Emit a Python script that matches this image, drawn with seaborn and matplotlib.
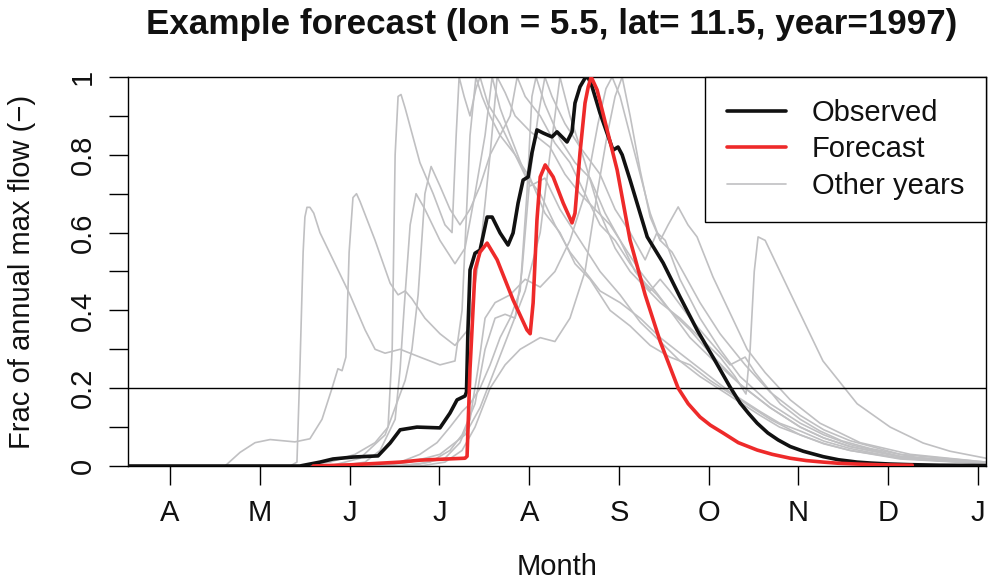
import numpy as np
import pandas as pd
import matplotlib
matplotlib.use("Agg")
import matplotlib.pyplot as plt
import seaborn as sns
from matplotlib.lines import Line2D
from matplotlib.ticker import FixedLocator, MultipleLocator, NullLocator

# ---------------- data ----------------
month_labels = ["A", "M", "J", "J", "A", "S", "O", "N", "D", "J"]
month_ticks = [14.2, 44.7, 75.2, 105.6, 136.1, 166.5, 197.0, 227.4, 257.9, 288.3]
y_ticks = [0, 0.2, 0.4, 0.6, 0.8, 1.0]
y_ticklabels = ["0", "0.2", "0.4", "0.6", "0.8", "1"]
threshold = 0.2

obs_day = [0, 58.3, 65.1, 69.5, 76.3, 84.8, 88.9, 92.3, 98.0, 105.8,
           109.2, 111.6, 114.3, 114.8, 115.3, 116.0, 117.7, 119.4, 121.8, 123.5,
           126.2, 128.9, 130.6, 132.3, 134.0, 135.7, 137.0, 138.7, 140.8, 143.8,
           145.5, 148.9, 150.6, 151.6, 153.3, 155.0, 156.0, 157.4, 160.1, 164.5,
           166.2, 167.6, 170.3, 176.1, 181.5, 187.2, 193.0, 198.4, 204.2, 207.6,
           210.5, 213.4, 217.0, 220.5, 224.6, 229.0, 235.8, 241.0, 247.3, 252.0,
           258.5, 265.0, 275.0, 291.0]
obs_val = [0, 0, 0.01, 0.018, 0.023, 0.026, 0.059, 0.093, 0.10, 0.098,
           0.136, 0.17, 0.18, 0.19, 0.35, 0.504, 0.547, 0.555, 0.64, 0.64,
           0.599, 0.568, 0.599, 0.676, 0.735, 0.743, 0.805, 0.864, 0.856, 0.846,
           0.859, 0.833, 0.859, 0.933, 0.975, 0.997, 1.0, 0.975, 0.907, 0.812,
           0.82, 0.80, 0.735, 0.589, 0.522, 0.435, 0.35, 0.28, 0.203, 0.162,
           0.135, 0.11, 0.085, 0.067, 0.05, 0.038, 0.024, 0.016, 0.01, 0.0075,
           0.005, 0.0035, 0.002, 0.001]

fc_day = [62.8, 75.3, 92.3, 99.0, 114.3, 115.0, 116.0, 117.7, 119.4, 121.8,
          125.2, 130.6, 135.3, 136.4, 137.4, 138.7, 139.8, 141.5, 144.2, 147.6,
          150.6, 151.6, 153.3, 155.0, 156.1, 157.1, 159.1, 162.5, 165.9, 170.3,
          175.4, 180.5, 186.6, 190.0, 194.0, 197.5, 201.8, 207.0, 213.4, 218.5,
          224.6, 230.0, 235.8, 241.0, 247.3, 255.0, 266.0]
fc_val = [0, 0.003, 0.01, 0.015, 0.02, 0.025, 0.25, 0.504, 0.55, 0.573,
          0.53, 0.427, 0.35, 0.34, 0.419, 0.632, 0.743, 0.774, 0.743, 0.676,
          0.625, 0.65, 0.805, 0.933, 0.975, 1.0, 0.967, 0.864, 0.761, 0.58,
          0.44, 0.32, 0.2, 0.16, 0.126, 0.105, 0.085, 0.06, 0.041, 0.03,
          0.02, 0.014, 0.01, 0.007, 0.005, 0.003, 0.002]

oy1_day = [0, 55.0, 57.3, 58.3, 59.4, 60.0, 60.7, 61.7, 63.0, 65.1, 70.2, 75.3,
           80.4, 83.8, 87.2, 92.3, 99.0, 105.8, 110.9, 113.3, 116.0, 118.0,
           120.1, 122.8, 126.2, 131.3, 136.4, 141.4, 146.5, 153.3, 160.1, 166.9,
           173.7, 180.5, 187.2, 194.0, 204.2, 214.4, 221.0, 228.0, 236.0, 244.9,
           261.9, 291.0]
oy1_val = [0, 0, 0.01, 0.25, 0.55, 0.64, 0.665, 0.665, 0.65, 0.6, 0.52, 0.44,
           0.35, 0.3, 0.29, 0.3, 0.28, 0.26, 0.27, 0.4, 0.85, 1.0,
           0.95, 0.9, 0.85, 0.8, 0.72, 0.74, 0.66, 0.58, 0.5, 0.44,
           0.37, 0.32, 0.27, 0.23, 0.18, 0.13, 0.1, 0.08, 0.057, 0.04,
           0.02, 0.006]

oy2_day = [0, 32.9, 38.0, 43.1, 48.2, 56.6, 61.7, 65.8, 69.2, 71.2,
           72.6, 73.9, 75.0, 76.3, 77.5, 78.7, 83.8, 88.9, 91.6, 94.0, 96.3,
           100.7, 105.8, 110.9, 115.3, 119.4, 122.8, 125.2, 127.9, 131.3, 136.4,
           143.1, 148.2, 153.3, 158.4, 163.5, 168.6, 173.7, 178.8, 183.8, 190.6,
           197.4, 207.6, 217.8, 228.0, 236.0, 244.9, 261.9, 291.0]
oy2_val = [0, 0, 0.035, 0.06, 0.068, 0.062, 0.07, 0.12, 0.2, 0.25,
           0.245, 0.28, 0.55, 0.69, 0.70, 0.68, 0.58, 0.47, 0.44, 0.45, 0.43,
           0.38, 0.34, 0.31, 0.35, 0.55, 0.8, 1.0, 0.96, 0.9, 0.86,
           0.82, 0.75, 0.7, 0.66, 0.62, 0.56, 0.5, 0.45, 0.4, 0.33,
           0.28, 0.21, 0.15, 0.1, 0.072, 0.05, 0.024, 0.008]

oy3_day = [0, 58.3, 68.5, 77.0, 83.8, 88.2, 89.6, 90.6, 91.6, 92.6, 94.0,
           99.0, 103.5, 107.5, 109.9, 111.3, 112.3, 114.0, 116.0, 118.0, 119.4,
           122.1, 126.2, 131.3, 136.4, 141.4, 146.5, 151.6, 156.7, 163.5, 170.3,
           177.1, 183.8, 190.6, 197.4, 207.6, 217.8, 228.0, 236.0, 244.9, 261.9, 291.0]
oy3_val = [0, 0, 0.01, 0.03, 0.06, 0.1, 0.3, 0.8, 0.95, 0.955, 0.92,
           0.78, 0.70, 0.62, 0.6, 0.85, 1.0, 0.95, 0.9, 0.97, 1.0,
           0.93, 0.88, 0.8, 0.74, 0.65, 0.6, 0.52, 0.48, 0.4, 0.36,
           0.31, 0.28, 0.26, 0.22, 0.17, 0.12, 0.08, 0.058, 0.04, 0.018, 0.006]

oy4_day = [0, 68.5, 78.7, 87.2, 90.6, 94.0, 96.3, 98.4, 100.7, 102.8,
           105.8, 109.2, 112.6, 116.0, 119.4, 122.8, 126.2, 129.6, 132.0, 134.7,
           139.8, 144.8, 149.9, 155.0, 160.1, 165.2, 170.3, 175.4, 179.4, 183.8,
           190.6, 197.4, 207.6, 217.8, 228.0, 236.0, 244.9, 261.9, 291.0]
oy4_val = [0, 0, 0.02, 0.08, 0.15, 0.22, 0.3, 0.44, 0.7, 0.77,
           0.72, 0.66, 0.62, 0.66, 0.72, 0.8, 0.85, 0.9, 1.0, 0.95,
           0.9, 0.83, 0.78, 0.7, 0.62, 0.58, 0.52, 0.47, 0.44, 0.4,
           0.35, 0.29, 0.21, 0.15, 0.1, 0.072, 0.05, 0.024, 0.008]

oy5_day = [0, 71.9, 80.4, 85.5, 90.6, 92.3, 93.6, 95.7, 97.7, 100.7,
           105.8, 110.9, 114.3, 117.7, 121.1, 123.5, 126.2, 129.6, 134.7, 139.8,
           144.8, 149.9, 155.0, 160.1, 166.9, 173.7, 180.5, 187.2, 194.0, 204.2,
           214.4, 221.0, 228.0, 236.0, 244.9, 261.9, 291.0]
oy5_val = [0, 0, 0.01, 0.04, 0.12, 0.25, 0.4, 0.62, 0.70, 0.66,
           0.58, 0.52, 0.56, 0.7, 0.85, 1.0, 0.92, 0.85, 0.75, 0.7,
           0.62, 0.55, 0.5, 0.45, 0.42, 0.38, 0.33, 0.29, 0.25, 0.19,
           0.14, 0.11, 0.09, 0.064, 0.045, 0.02, 0.007]

oy6_day = [0, 82.1, 92.3, 99.0, 104.8, 109.2, 113.3, 116.0, 119.4, 122.8,
           126.2, 129.6, 133.0, 135.3, 137.0, 138.4, 141.4, 146.5, 151.6, 156.7,
           161.8, 166.9, 172.0, 177.1, 180.5, 183.8, 190.6, 197.4, 204.2, 209.3,
           212.7, 221.2, 228.0, 234.7, 242.0, 251.7, 268.6, 291.0]
oy6_val = [0, 0, 0.01, 0.03, 0.06, 0.1, 0.14, 0.16, 0.2, 0.26,
           0.33, 0.38, 0.45, 0.7, 0.95, 1.0, 0.93, 0.84, 0.78, 0.74,
           0.65, 0.58, 0.5, 0.45, 0.48, 0.45, 0.38, 0.32, 0.26, 0.28,
           0.24, 0.16, 0.12, 0.09, 0.065, 0.045, 0.02, 0.007]

oy7_day = [0, 92.3, 102.4, 109.2, 113.3, 117.7, 121.1, 124.5, 127.9, 131.3,
           133.6, 136.4, 139.1, 141.4, 143.8, 148.2, 153.3, 160.1, 165.2, 170.3,
           175.4, 179.4, 182.2, 187.2, 194.0, 200.8, 207.6, 217.8, 228.0, 236.0,
           244.9, 261.9, 291.0]
oy7_val = [0, 0, 0.01, 0.04, 0.08, 0.16, 0.3, 0.38, 0.39, 0.38,
           0.5, 0.75, 0.9, 1.0, 0.95, 0.88, 0.82, 0.75, 0.66, 0.6,
           0.53, 0.6, 0.58, 0.48, 0.38, 0.3, 0.23, 0.16, 0.11, 0.08,
           0.055, 0.025, 0.008]

oy8_day = [0, 88.9, 99.0, 107.5, 112.6, 116.0, 118.7, 121.1, 124.5, 129.6,
           134.7, 139.8, 144.8, 149.9, 155.0, 159.4, 162.1, 164.2, 166.9, 170.3,
           173.7, 177.1, 180.5, 184.5, 188.9, 194.0, 200.8, 209.3, 217.8, 228.0,
           236.0, 244.9, 261.9, 291.0]
oy8_val = [0, 0, 0.005, 0.02, 0.06, 0.12, 0.25, 0.38, 0.42, 0.44,
           0.48, 0.46, 0.5, 0.58, 0.7, 0.88, 0.97, 1.0, 0.95, 0.85,
           0.75, 0.65, 0.58, 0.55, 0.49, 0.42, 0.34, 0.26, 0.19, 0.13,
           0.093, 0.065, 0.03, 0.01]

oy9_day = [0, 99.0, 107.5, 113.3, 117.7, 122.8, 127.9, 133.0, 139.8, 144.8,
           149.9, 155.0, 159.1, 162.5, 165.2, 167.6, 170.3, 173.7, 177.1, 180.5,
           183.2, 186.6, 189.9, 193.0, 198.4, 204.2, 210.0, 216.1, 224.6, 234.7,
           248.3, 265.3, 291.0]
oy9_val = [0, 0, 0.01, 0.04, 0.1, 0.2, 0.26, 0.3, 0.33, 0.32,
           0.38, 0.5, 0.7, 0.85, 0.95, 1.0, 0.9, 0.76, 0.64, 0.58,
           0.62, 0.666, 0.62, 0.589, 0.486, 0.393, 0.3, 0.24, 0.17, 0.11,
           0.06, 0.03, 0.01]

oy10_day = [0, 85.5, 95.7, 105.8, 114.3, 119.4, 124.5, 129.6, 134.7, 139.8,
            143.1, 146.5, 149.9, 155.0, 160.1, 165.2, 170.3, 175.4, 180.5, 187.2,
            194.0, 200.8, 205.9, 208.3, 209.6, 211.0, 212.4, 213.7, 216.1, 224.6,
            235.7, 247.3, 258.5, 269.7, 278.8, 291.0]
oy10_val = [0, 0, 0.01, 0.03, 0.08, 0.15, 0.25, 0.35, 0.45, 0.6,
            0.8, 1.0, 0.9, 0.78, 0.65, 0.56, 0.5, 0.46, 0.42, 0.38,
            0.33, 0.28, 0.23, 0.2, 0.185, 0.3, 0.5, 0.589, 0.58, 0.445,
            0.27, 0.16, 0.10, 0.059, 0.038, 0.02]

# ---------------- tables ----------------
other_pairs = [(oy1_day, oy1_val), (oy2_day, oy2_val), (oy3_day, oy3_val),
               (oy4_day, oy4_val), (oy5_day, oy5_val), (oy6_day, oy6_val),
               (oy7_day, oy7_val), (oy8_day, oy8_val), (oy9_day, oy9_val),
               (oy10_day, oy10_val)]
gray_df = pd.concat(
    [pd.DataFrame({"day": d, "frac": v, "year": i}) for i, (d, v) in enumerate(other_pairs)],
    ignore_index=True)
obs_df = pd.DataFrame({"day": obs_day, "frac": obs_val})
fc_df = pd.DataFrame({"day": fc_day, "frac": fc_val})

# ---------------- style ----------------
sns.set_style("white")
plt.rcParams["font.family"] = ["Liberation Sans", "DejaVu Sans"]
plt.rcParams["axes.linewidth"] = 1.0

GRAY = "#C0C0C2"
RED = "#EE2A2A"
BLACK = "#111111"
FS = 21

W, H = 988, 581
fig = plt.figure(figsize=(W / 100, H / 100), dpi=100)
L, R, T, B = 128, 986, 77, 466
ax = fig.add_axes([L / W, (H - B) / H, (R - L) / W, (B - T) / H])

sns.lineplot(data=gray_df, x="day", y="frac", units="year", estimator=None,
             sort=False, color=GRAY, lw=1.2, legend=False, ax=ax, zorder=2)
ax.axhline(threshold, color="black", lw=1.0, zorder=2.5)
sns.lineplot(data=obs_df, x="day", y="frac", sort=False, estimator=None,
             color=BLACK, lw=2.6, ax=ax, zorder=3)
sns.lineplot(data=fc_df, x="day", y="frac", sort=False, estimator=None,
             color=RED, lw=2.6, ax=ax, zorder=4)

ax.set_xlim(0, 291)
ax.set_ylim(0, 1)

for s in ax.spines.values():
    s.set_visible(True)
    s.set_color("black")
    s.set_linewidth(1.0)

ax.xaxis.set_major_locator(FixedLocator(month_ticks))
ax.set_xticklabels(month_labels)
ax.xaxis.set_minor_locator(NullLocator())
ax.yaxis.set_major_locator(FixedLocator(y_ticks))
ax.set_yticklabels(y_ticklabels, rotation=90, va="center")
ax.yaxis.set_minor_locator(MultipleLocator(0.1))

ax.tick_params(axis="both", which="both", direction="out", length=13.7,
               width=1.0, color="black", labelsize=FS, labelcolor=BLACK)
ax.tick_params(axis="x", which="major", pad=10.4, bottom=True)
ax.tick_params(axis="y", which="both", pad=8.6, left=True)

ax.set_xlabel("Month", fontsize=FS, color=BLACK, va="center")
ax.xaxis.set_label_coords(0.5, -0.2596)
ax.set_ylabel("Frac of annual max flow (\u2212)", fontsize=FS, color=BLACK, va="center")
ax.yaxis.set_label_coords(-0.123, 0.5)

ax.set_title("Example forecast (lon = 5.5, lat= 11.5, year=1997)",
             fontsize=25.2, fontweight="bold", pad=31, color=BLACK, x=0.494)

handles = [Line2D([], [], color=BLACK, lw=2.6),
           Line2D([], [], color=RED, lw=2.6),
           Line2D([], [], color=GRAY, lw=1.2)]
leg = ax.legend(handles, ["Observed", "Forecast", "Other years"],
                loc="upper right", bbox_to_anchor=(1, 1), borderaxespad=0,
                frameon=True, fancybox=False, framealpha=1, edgecolor="black",
                fontsize=FS, handlelength=2.0, handletextpad=0.9,
                labelspacing=0.29, borderpad=0.75)
leg.get_frame().set_linewidth(1.0)
for t in leg.get_texts():
    t.set_color(BLACK)
leg.set_zorder(10)

fig.savefig("out.png", dpi=100)
